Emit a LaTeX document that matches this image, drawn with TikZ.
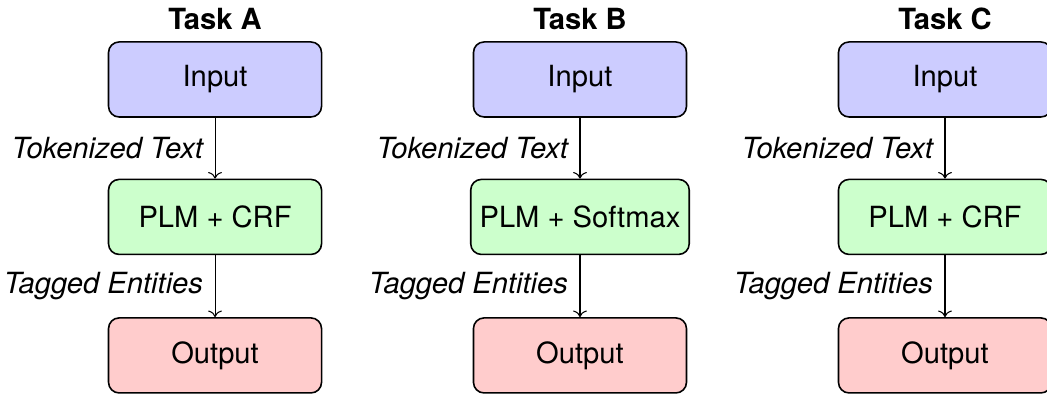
\documentclass[tikz,border=0pt]{standalone}
\usepackage{fontspec}
\setmainfont{TeX Gyre Heros}
\usetikzlibrary{arrows.meta}

\tikzset{
  stagebox/.style={draw, semithick, rounded corners, minimum width=2.825cm, minimum height=0.995cm, align=center},
  inbox/.style={stagebox, fill=blue!20},
  modelbox/.style={stagebox, fill=green!20},
  outbox/.style={stagebox, fill=red!20},
  flowlabel/.style={left, font=\fontsize{11}{13}\selectfont\itshape, xshift=-1pt},
  tasktitle/.style={anchor=base, font=\fontsize{11}{13}\selectfont\bfseries}
}

\begin{document}
\begin{tikzpicture}[every node/.append style={font=\fontsize{11}{13}\selectfont}]
\useasboundingbox (0,0) rectangle (13.886,5.225);

% Task A
\node[tasktitle] (titA) at (2.852,4.828) {Task A};
\node[inbox] (inA) at (2.852,4.171) {Input};
\node[modelbox] (plmA) at (2.852,2.348) {PLM + CRF};
\node[outbox] (outA) at (2.852,0.511) {Output};
\draw[->] (inA) -- node[flowlabel] {Tokenized Text} (plmA);
\draw[->] (plmA) -- node[flowlabel] {Tagged Entities} (outA);

% Task B
\node[tasktitle] (titB) at (7.692,4.828) {Task B};
\node[inbox] (inB) at (7.692,4.171) {Input};
\node[modelbox] (plmB) at (7.692,2.348) {PLM + Softmax};
\node[outbox] (outB) at (7.692,0.511) {Output};
\draw[->] (inB) -- node[flowlabel] {Tokenized Text} (plmB);
\draw[->] (plmB) -- node[flowlabel] {Tagged Entities} (outB);

% Task C
\node[tasktitle] (titC) at (12.533,4.828) {Task C};
\node[inbox] (inC) at (12.533,4.171) {Input};
\node[modelbox] (plmC) at (12.533,2.348) {PLM + CRF};
\node[outbox] (outC) at (12.533,0.511) {Output};
\draw[->] (inC) -- node[flowlabel] {Tokenized Text} (plmC);
\draw[->] (plmC) -- node[flowlabel] {Tagged Entities} (outC);
\end{tikzpicture}
\end{document}
